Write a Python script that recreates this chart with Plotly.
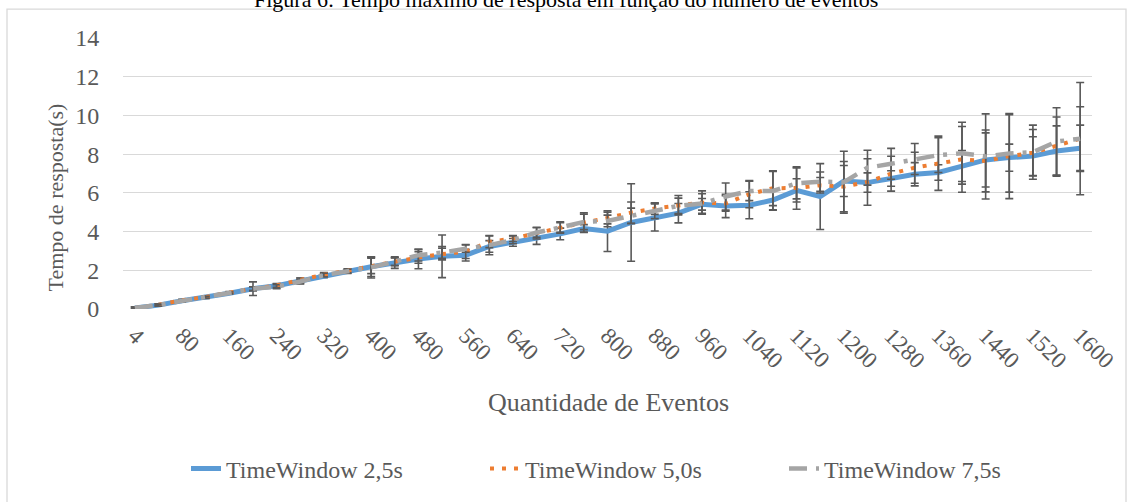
import plotly.graph_objects as go

# ---------------- data ----------------
categories = ["4", "40", "80", "120", "160", "200", "240", "280", "320", "360",
              "400", "440", "480", "520", "560", "600", "640", "680", "720", "760",
              "800", "840", "880", "920", "960", "1000", "1040", "1080", "1120", "1160",
              "1200", "1240", "1280", "1320", "1360", "1400", "1440", "1480", "1520", "1560",
              "1600"]

tick_labels = ["4", "80", "160", "240", "320", "400", "480", "560", "640", "720", "800",
               "880", "960", "1040", "1120", "1200", "1280", "1360", "1440", "1520", "1600"]

tw_25 = [0.05, 0.20, 0.43, 0.60, 0.81, 1.05, 1.20, 1.45, 1.72, 1.94,
         2.18, 2.40, 2.58, 2.72, 2.78, 3.23, 3.44, 3.64, 3.88, 4.16,
         4.02, 4.47, 4.73, 4.95, 5.41, 5.32, 5.36, 5.63, 6.13, 5.81,
         6.61, 6.53, 6.74, 6.96, 7.05, 7.39, 7.70, 7.82, 7.90, 8.16,
         8.30]
tw_50 = [0.05, 0.22, 0.45, 0.62, 0.85, 1.05, 1.22, 1.50, 1.78, 1.98,
         2.23, 2.44, 2.66, 2.84, 2.96, 3.47, 3.64, 3.92, 4.21, 4.47,
         4.70, 4.98, 5.19, 5.36, 5.50, 5.45, 5.93, 6.24, 6.25, 6.39,
         6.32, 6.56, 6.99, 7.30, 7.53, 7.73, 7.65, 7.90, 8.07, 8.42,
         8.80]
tw_75 = [0.05, 0.20, 0.42, 0.60, 0.83, 1.05, 1.15, 1.42, 1.75, 1.95,
         2.15, 2.45, 2.78, 2.92, 3.13, 3.30, 3.57, 3.95, 4.21, 4.50,
         4.55, 4.81, 5.07, 5.33, 5.45, 5.81, 6.10, 6.10, 6.49, 6.58,
         6.55, 7.30, 7.50, 7.75, 7.95, 8.05, 7.88, 8.04, 8.10, 8.65,
         8.80]

err_25 = [0.05, 0.05, 0.05, 0.05, 0.05, 0.35, 0.10, 0.15, 0.10, 0.10,
          0.50, 0.30, 0.50, 1.10, 0.30, 0.30, 0.20, 0.30, 0.30, 0.20,
          1.05, 2.00, 0.70, 0.50, 0.30, 0.60, 0.70, 0.50, 0.60, 1.70,
          0.80, 0.50, 0.40, 0.60, 0.40, 0.80, 1.40, 0.70, 1.00, 1.30,
          1.20]
err_50 = [0.05, 0.05, 0.05, 0.05, 0.05, 0.10, 0.10, 0.10, 0.10, 0.10,
          0.40, 0.20, 0.30, 0.30, 0.35, 0.30, 0.15, 0.30, 0.30, 0.50,
          0.30, 0.55, 0.30, 0.50, 0.60, 0.40, 0.70, 0.90, 1.10, 0.40,
          1.30, 1.20, 0.90, 0.80, 1.40, 1.70, 1.60, 2.20, 1.20, 1.50,
          1.65]
err_75 = [0.05, 0.05, 0.05, 0.05, 0.05, 0.10, 0.10, 0.10, 0.10, 0.10,
          0.55, 0.20, 0.30, 0.30, 0.20, 0.50, 0.20, 0.25, 0.25, 0.40,
          0.30, 0.40, 0.40, 0.40, 0.50, 0.70, 0.50, 1.00, 0.80, 0.50,
          1.60, 0.90, 0.80, 0.80, 0.90, 1.60, 2.20, 2.00, 1.40, 1.75,
          2.90]

series_names = ["TimeWindow 2,5s", "TimeWindow 5,0s", "TimeWindow 7,5s"]

# ---------------- layout helpers ----------------
L, R, T, B = 123, 1092, 38, 310
W, H = R - L, B - T


def px_x(x):
    return (x - L) / W


def px_y(y):
    return (B - y) / H


FONT = "Liberation Serif"
GREY_TXT = "#595959"
ERR = dict(type="data", color="#595959", thickness=1.6, width=4)

fig = go.Figure()
fig.add_trace(go.Scatter(
    x=categories, y=tw_25, name=series_names[0], mode="lines",
    line=dict(color="#5B9BD5", width=5),
    error_y=dict(array=err_25, **ERR)))
fig.add_trace(go.Scatter(
    x=categories, y=tw_50, name=series_names[1], mode="lines",
    line=dict(color="#ED7D31", width=4, dash="4px,8px"),
    error_y=dict(array=err_50, **ERR)))
fig.add_trace(go.Scatter(
    x=categories, y=tw_75, name=series_names[2], mode="lines",
    line=dict(color="#A5A5A5", width=4.5, dash="18px,9px,4px,9px"),
    error_y=dict(array=err_75, **ERR)))

fig.update_layout(
    width=1131, height=502,
    margin=dict(l=L, r=1131 - R, t=T, b=502 - B),
    paper_bgcolor="white", plot_bgcolor="white",
    font=dict(family=FONT, color=GREY_TXT, size=24),
    showlegend=True,
    legend=dict(orientation="h", x=px_x(186), y=px_y(469),
                xanchor="left", yanchor="middle",
                font=dict(family=FONT, size=24, color=GREY_TXT),
                entrywidth=254, entrywidthmode="pixels",
                bgcolor="rgba(0,0,0,0)"),
    xaxis=dict(type="category", tickmode="array",
               tickvals=tick_labels, ticktext=tick_labels,
               tickangle=45, showgrid=False, zeroline=False, showline=False,
               ticks="outside", ticklen=3, tickcolor="rgba(0,0,0,0)",
               tickfont=dict(family=FONT, size=23, color=GREY_TXT),
               range=[-0.5, len(categories) - 0.5]),
    yaxis=dict(range=[0, 14], dtick=2, showgrid=True, gridcolor="#D9D9D9",
               gridwidth=1, zeroline=False, showline=False,
               ticks="outside", ticklen=18, tickcolor="rgba(0,0,0,0)",
               tickfont=dict(family=FONT, size=24, color=GREY_TXT)),
)

# chart border
fig.add_shape(type="rect", xref="paper", yref="paper",
              x0=px_x(7), x1=px_x(1126), y0=px_y(9), y1=px_y(530),
              line=dict(color="#D9D9D9", width=1.3), fillcolor="rgba(0,0,0,0)",
              layer="below")

# axis titles
fig.add_annotation(text="Tempo de resposta(s)", xref="paper", yref="paper",
                   x=px_x(55), y=px_y(198), textangle=-90, showarrow=False,
                   xanchor="center", yanchor="middle",
                   font=dict(family=FONT, size=22, color=GREY_TXT))
fig.add_annotation(text="Quantidade de Eventos", xref="paper", yref="paper",
                   x=px_x(608), y=px_y(404), showarrow=False,
                   xanchor="center", yanchor="middle",
                   font=dict(family=FONT, size=26, color=GREY_TXT))

# document caption (cut off at the top)
fig.add_annotation(text="Figura 6: Tempo máximo de resposta em função do número de eventos",
                   xref="paper", yref="paper", x=px_x(566), y=px_y(14),
                   showarrow=False, xanchor="center", yanchor="bottom",
                   font=dict(family=FONT, size=22, color="black"))

fig.write_html("out.html", config={"displayModeBar": False},
               post_script="document.body.style.margin='0';")
